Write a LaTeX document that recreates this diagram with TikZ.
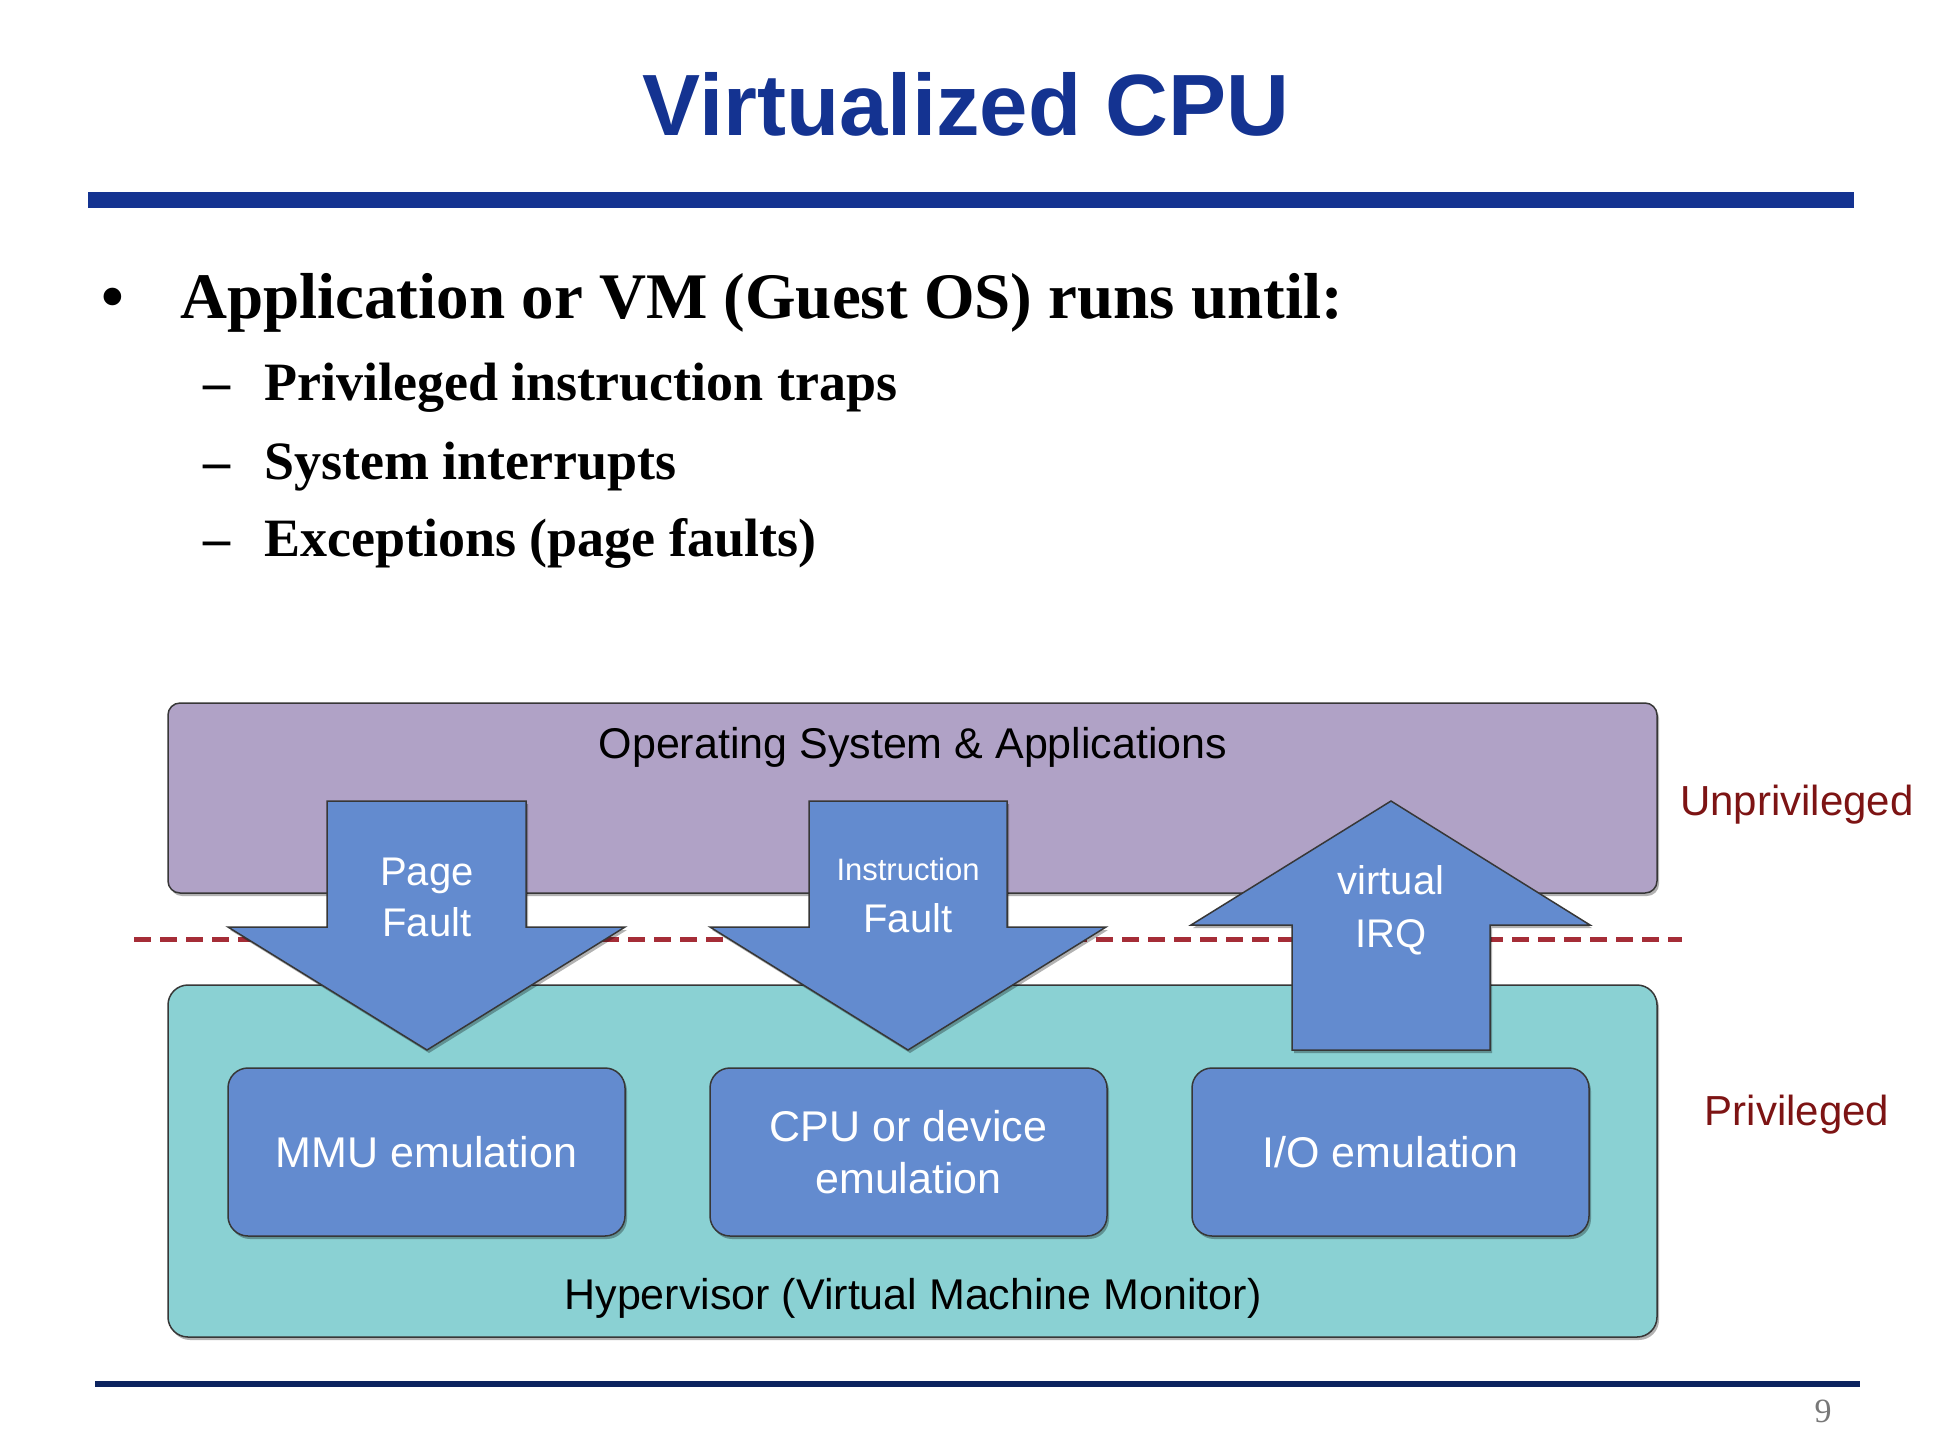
\documentclass[tikz,border=0pt]{standalone}
\usepackage{fontspec}
\setmainfont{Liberation Serif}
\newfontfamily\arial{Liberation Sans}
\usetikzlibrary{shadows}
\definecolor{titleblue}{RGB}{20,51,145}
\definecolor{ospurple}{RGB}{176,162,198}
\definecolor{hvteal}{RGB}{138,209,211}
\definecolor{arrblue}{RGB}{99,139,207}
\definecolor{dashred}{RGB}{165,45,55}
\definecolor{privred}{RGB}{125,20,20}
\definecolor{navy}{RGB}{12,35,95}
\definecolor{bordergray}{RGB}{55,55,55}
\definecolor{pagegray}{RGB}{120,120,120}
\tikzset{
  shadowed/.style={drop shadow={shadow xshift=2pt,shadow yshift=-3pt,opacity=0.3,fill=black}},
  layerbox/.style={draw=bordergray,line width=1.5pt,rounded corners=12pt,shadowed,inner sep=0pt},
  embox/.style={draw=bordergray,line width=1.5pt,rounded corners=20pt,fill=arrblue,shadowed,
     minimum width=397pt,minimum height=168pt,inner sep=0pt,text=white,align=center,
     font=\arial\fontsize{43}{52}\selectfont},
  blockarrow/.style={draw=bordergray,line width=1.5pt,fill=arrblue,shadowed,line join=miter},
  arrowtext/.style={anchor=base,inner sep=0pt,text=white,font=\arial\fontsize{40}{48}\selectfont},
  boxtext/.style={anchor=base,inner sep=0pt,font=\arial\fontsize{43}{52}\selectfont},
  levtext/.style={anchor=base,inner sep=0pt,text=privred,font=\arial\fontsize{42}{50}\selectfont},
  bodytext/.style={anchor=base west,inner sep=0pt,font=\bfseries\fontsize{54}{64}\selectfont},
}
\begin{document}
\begin{tikzpicture}[x=1pt,y=-1pt]
\useasboundingbox[fill=white] (0,0) rectangle (1942,1454);

% title and rules
\node[anchor=base,inner sep=0pt,text=titleblue,font=\arial\bfseries\fontsize{87}{100}\selectfont] (title) at (966,135) {Virtualized CPU};
\fill[titleblue] (88,192) rectangle (1854,208);
\fill[navy] (95,1381) rectangle (1860,1387);
\node[anchor=base,inner sep=0pt,text=pagegray,font=\fontsize{34}{40}\selectfont] (pagenum) at (1823,1422) {9};

% bullet list
\node[anchor=base,inner sep=0pt,font=\bfseries\fontsize{65}{78}\selectfont] (bul) at (113,318) {•};
\node[anchor=base west,inner sep=0pt,font=\bfseries\fontsize{65}{78}\selectfont] (item) at (180,318) {Application or VM (Guest OS) runs until:};
\node[bodytext] (d1) at (203,400) {–};
\node[bodytext] (s1) at (264,400) {Privileged instruction traps};
\node[bodytext] (d2) at (203,479) {–};
\node[bodytext] (s2) at (264,479) {System interrupts};
\node[bodytext] (d3) at (203,556) {–};
\node[bodytext] (s3) at (264,556) {Exceptions (page faults)};

% layers
\node[layerbox,fill=ospurple,minimum width=1489pt,minimum height=190pt] (os) at (912.5,798) {};
\node[layerbox,fill=hvteal,rounded corners=20pt,minimum width=1489pt,minimum height=352pt] (hv) at (912.5,1161) {};
\node[boxtext] (ostext) at (913,758) {Operating System \& Applications};
\node[boxtext] (hvtext) at (913,1309) {Hypervisor (Virtual Machine Monitor)};

% privilege boundary
\coordinate (dl) at (134,939);
\coordinate (dr) at (1682,939);
\draw[dashred,line width=5pt,dash pattern=on 17pt off 9pt] (dl) -- (dr);
\node[levtext] (unpriv) at (1797,815) {Unprivileged};
\node[levtext] (priv) at (1797,1125) {Privileged};

% block arrows
\draw[blockarrow] (327,801) -- (526,801) -- (526,927) -- (625,927) -- (427,1050) -- (228,927) -- (327,927) -- cycle;
\draw[blockarrow] (809,801) -- (1007,801) -- (1007,927) -- (1106,927) -- (908,1050) -- (710,927) -- (809,927) -- cycle;
\draw[blockarrow] (1391,801) -- (1590,925) -- (1490,925) -- (1490,1050) -- (1292,1050) -- (1292,925) -- (1191,925) -- cycle;
\node[arrowtext] (pf1) at (427,885) {Page};
\node[arrowtext] (pf2) at (427,936) {Fault};
\node[arrowtext,font=\arial\fontsize{31}{37}\selectfont] (if1) at (908,880) {Instruction};
\node[arrowtext] (if2) at (908,932) {Fault};
\node[arrowtext] (vi1) at (1391,894) {virtual};
\node[arrowtext] (vi2) at (1391,947) {IRQ};

% emulation boxes
\node[embox] (mmu) at (426.5,1152) {MMU emulation};
\node[embox] (cpu) at (908.5,1152) {CPU or device\\emulation};
\node[embox] (io) at (1390.5,1152) {I/O emulation};
\end{tikzpicture}
\end{document}
